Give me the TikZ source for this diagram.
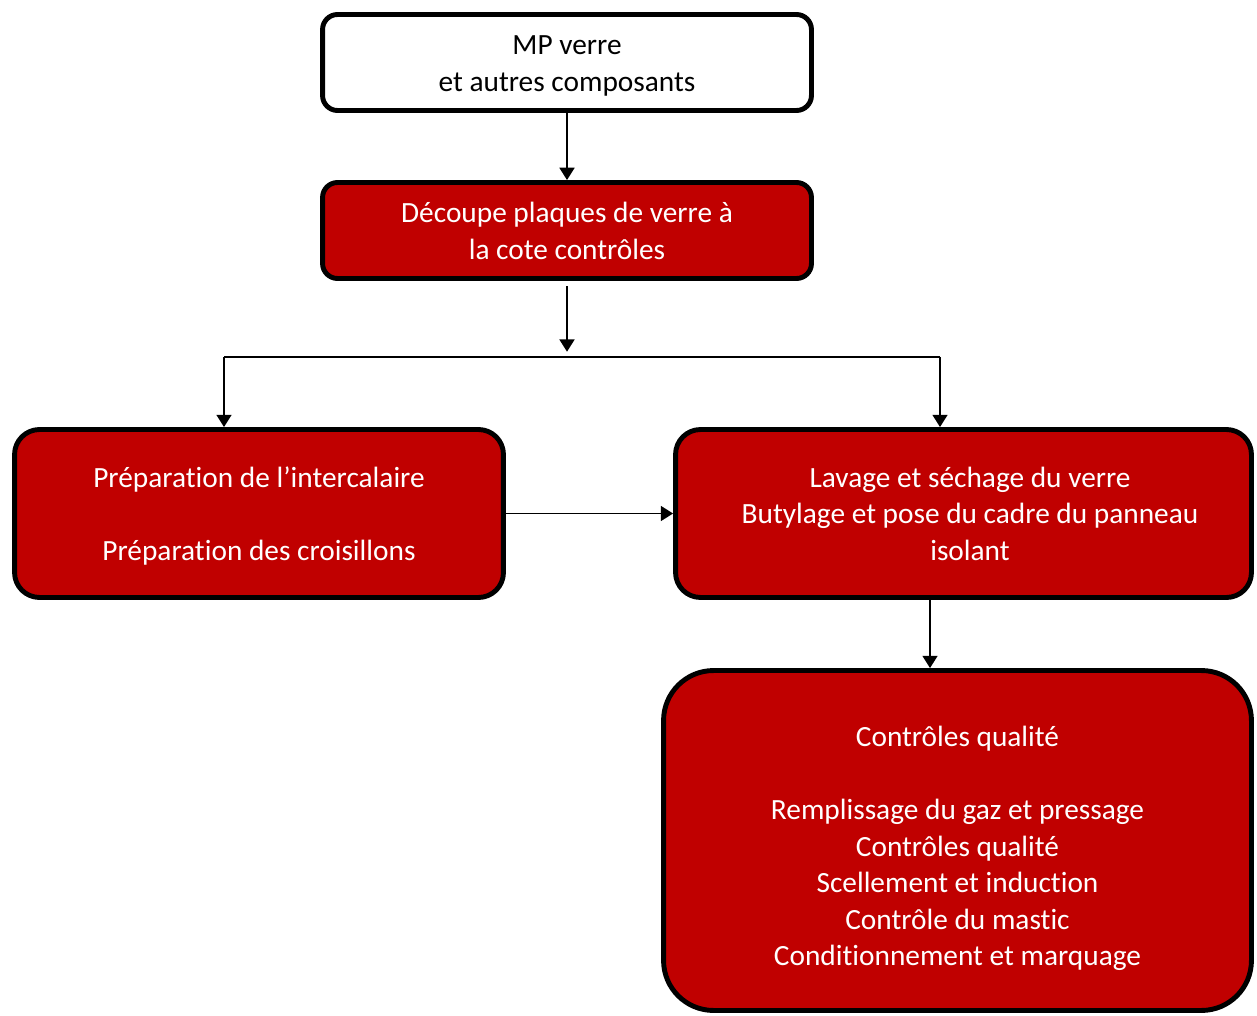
\documentclass[tikz,border=0pt]{standalone}
\usepackage{fontspec}
\setmainfont{Carlito}[Ligatures=NoCommon]
\usepackage{tikz}
\usetikzlibrary{arrows.meta}
\usetikzlibrary{positioning}
\definecolor{boxred}{HTML}{C00000}
% centred lines, moved right by #1/2 and down by -#2
\newcommand{\boxtext}[3]{\hspace*{#1}\raisebox{#2}[\height][\depth]{\begin{tabular}{@{}c@{}}#3\end{tabular}}}

\begin{document}
\begin{tikzpicture}[x=0.02cm,y=-0.02cm,
                    arr/.style={-{Triangle[width=8.5pt,length=7pt]},line width=1.1pt},
                    stage/.style={rectangle,draw,line width=2.8pt,fill=boxred,text=white,
                                  inner sep=0pt,
                                  font=\fontsize{16.7}{20.8}\selectfont}]

\useasboundingbox (0,0) rectangle (1257,1016);

\node[stage] (MP) at (567,62.5) [fill=white, text=black, rounded corners=0.3cm, minimum width=9.78cm, minimum height=1.92cm] {\boxtext{0pt}{-1.9pt}{MP verre\\et autres composants}};
\node[stage] (cut) at (567,230.5) [rounded corners=0.3cm, minimum width=9.78cm, minimum height=1.92cm] {\boxtext{0pt}{-1.7pt}{Découpe plaques de verre à\\la cote contrôles}};

\node[stage] (prep) at (259,513.5) [rounded corners=0.5cm, minimum width=9.78cm, minimum height=3.36cm] {\boxtext{0pt}{-2pt}{Préparation de l’intercalaire\\ \mbox{}\\Préparation des croisillons}};
\node[stage] (wash) at (963.5,513.5) [rounded corners=0.5cm, minimum width=11.52cm, minimum height=3.36cm] {\boxtext{7.4pt}{-1.8pt}{Lavage et séchage du verre\\Butylage et pose du cadre du panneau\\isolant}};

\node[stage] (qual) at (957.5,840.5) [rounded corners=1cm, minimum width=11.76cm, minimum height=6.8cm] {\boxtext{0pt}{-4.8pt}{Contrôles qualité\\ \mbox{}\\Remplissage du gaz et pressage\\Contrôles qualité\\Scellement et induction\\Contrôle du mastic\\Conditionnement et marquage}};

\coordinate (split) at (567,357);
\coordinate (left) at (224,357);
\coordinate (right) at (940,357);

\draw[arr] (MP) -- (cut);
\draw[arr, shorten <=3pt, shorten >=3pt] (cut) -- (split);
\draw[line width=1.1pt] (left) -- (right);
\draw[arr] (left) -- (left |- prep.north);
\draw[arr] (right) -- (right |- wash.north);
\draw[arr] (prep.east) -- (wash.west);
\draw[arr] ([xshift=-0.67cm]wash.south) -- ([xshift=-0.67cm]wash.south |- qual.north);
\end{tikzpicture}
\end{document}
